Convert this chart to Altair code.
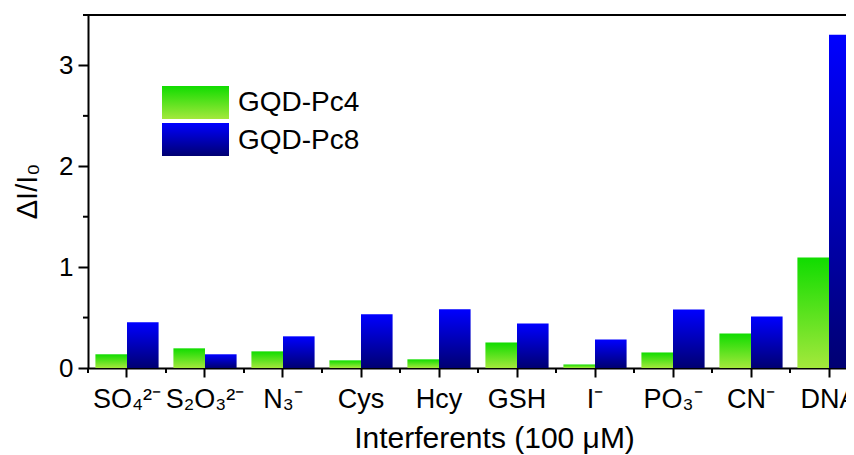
import altair as alt
import pandas as pd

categories = ["SO₄²⁻", "S₂O₃²⁻", "N₃⁻", "Cys", "Hcy", "GSH", "I⁻", "PO₃⁻", "CN⁻", "DNA"]
series = ["GQD-Pc4", "GQD-Pc8"]
pc4 = [0.136, 0.195, 0.165, 0.076, 0.086, 0.253, 0.035, 0.154, 0.342, 1.095]
pc8 = [0.453, 0.136, 0.314, 0.532, 0.582, 0.441, 0.282, 0.580, 0.510, 3.305]
y_major = [0, 1, 2, 3]
y_minor = [0.5, 1.5, 2.5, 3.5]

rows = []
for c, a, b in zip(categories, pc4, pc8):
    rows.append({"cat": c, "series": series[0], "value": a})
    rows.append({"cat": c, "series": series[1], "value": b})
df = pd.DataFrame(rows)
df_cat = pd.DataFrame({"cat": categories})
df_ymin = pd.DataFrame({"v": y_minor})

W, H = 758, 353
FONT = "Liberation Sans"

green = alt.LinearGradient(gradient="linear", x1=0, x2=0, y1=0, y2=1,
                           stops=[alt.GradientStop(offset=0, color="#10DC00"),
                                  alt.GradientStop(offset=1, color="#A4E83C")])
blue = alt.LinearGradient(gradient="linear", x1=0, x2=0, y1=0, y2=1,
                          stops=[alt.GradientStop(offset=0, color="#0000FF"),
                                 alt.GradientStop(offset=1, color="#000072")])

xscale = alt.Scale(domain=categories, range=[0, 780], paddingInner=0.19, paddingOuter=0.095)
yscale = alt.Scale(domain=[0, 3.5], nice=False, zero=True)

xaxis = alt.Axis(labelAngle=0, labelFontSize=27, labelFont=FONT, labelColor="black",
                 labelOverlap=False, labelFlush=False, labelBaseline="alphabetic", labelPadding=30,
                 tickSize=9, tickWidth=2, tickColor="black", domainWidth=2, domainColor="black",
                 title="Interferents (100 μM)", titleFontSize=30, titleFont=FONT,
                 titleFontWeight="normal", titleColor="black", titleX=406, titleY=79,
                 titleBaseline="alphabetic", titleAlign="center", grid=False)
yaxis = alt.Axis(values=y_major, labelFontSize=26, labelFont=FONT, labelColor="black",
                 labelPadding=5, tickSize=10, tickWidth=2, tickColor="black",
                 domainWidth=2, domainColor="black", title="ΔI/I₀", titleFontSize=29,
                 titleFont=FONT, titleFontWeight="normal", titleColor="black",
                 titleX=-52, titleY=176, titleAngle=270, titleAlign="center",
                 titleBaseline="alphabetic", grid=False)

base = alt.Chart(df)
xo = alt.XOffset("series:N", scale=alt.Scale(domain=series, paddingInner=0, paddingOuter=0))

bars4 = base.transform_filter(alt.datum.series == series[0]).mark_bar(color=green).encode(
    x=alt.X("cat:N", sort=categories, scale=xscale, axis=xaxis),
    xOffset=xo,
    y=alt.Y("value:Q", scale=yscale, axis=yaxis),
)
bars8 = base.transform_filter(alt.datum.series == series[1]).mark_bar(color=blue).encode(
    x=alt.X("cat:N", sort=categories, scale=xscale, axis=xaxis),
    xOffset=xo,
    y=alt.Y("value:Q", scale=yscale, axis=yaxis),
)

xminor = alt.Chart(df_cat).mark_rule(color="black", strokeWidth=2, xOffset=-7.4).encode(
    x=alt.X("cat:N", sort=categories, scale=xscale, axis=xaxis, bandPosition=0),
    y=alt.value(H), y2=alt.value(H + 5),
)
yminor = alt.Chart(df_ymin).mark_rule(color="black", strokeWidth=2).encode(
    y=alt.Y("v:Q", scale=yscale, axis=yaxis),
    x=alt.value(-5), x2=alt.value(0),
)
topline = alt.Chart(df_cat).mark_rule(color="black", strokeWidth=2).encode(
    y=alt.value(0), x=alt.value(0), x2=alt.value(W),
)

leg_g = alt.Chart(pd.DataFrame({"s": [series[0]]})).mark_rect(color=green).encode(
    x=alt.value(74), x2=alt.value(141), y=alt.value(71), y2=alt.value(104))
leg_b = alt.Chart(pd.DataFrame({"s": [series[1]]})).mark_rect(color=blue).encode(
    x=alt.value(74), x2=alt.value(141), y=alt.value(108), y2=alt.value(141))
leg_tg = alt.Chart(pd.DataFrame({"s": [series[0]]})).mark_text(
    align="left", baseline="middle", fontSize=28, font=FONT, color="black").encode(
    x=alt.value(150), y=alt.value(88), text="s:N")
leg_tb = alt.Chart(pd.DataFrame({"s": [series[1]]})).mark_text(
    align="left", baseline="middle", fontSize=28, font=FONT, color="black").encode(
    x=alt.value(150), y=alt.value(126), text="s:N")

chart = alt.layer(bars4, bars8, xminor, yminor, topline, leg_g, leg_b, leg_tg, leg_tb).properties(
    width=W, height=H,
    padding={"left": 80, "top": 7, "right": 0, "bottom": 86},
    autosize=alt.AutoSizeParams(type="none"),
).configure_view(stroke=None).configure(font=FONT)

chart.save("out.html", embed_options={"renderer": "svg", "actions": False})
